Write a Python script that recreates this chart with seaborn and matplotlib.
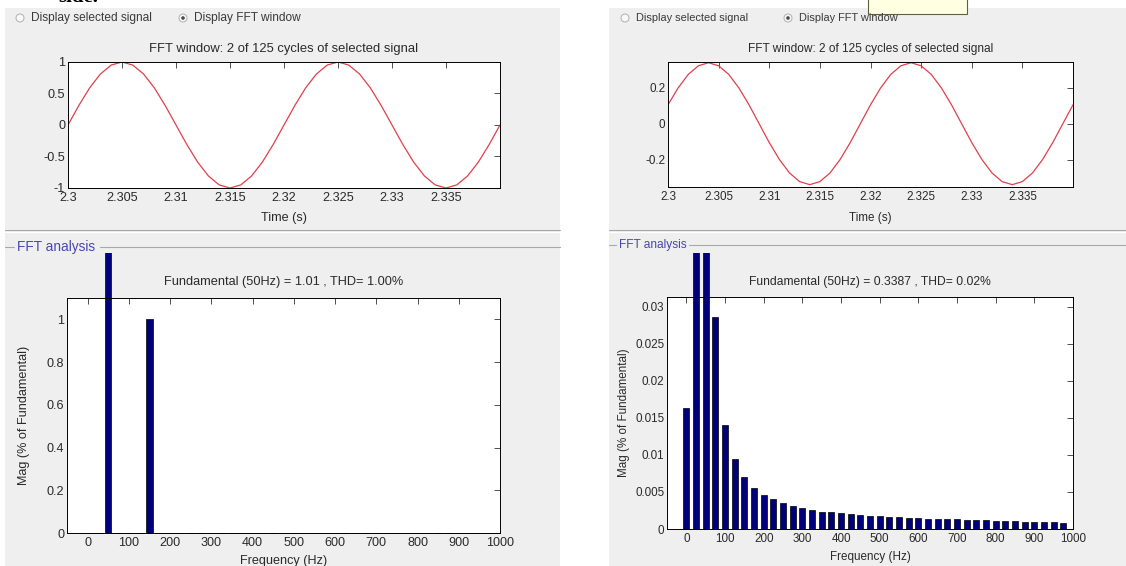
import numpy as np
import matplotlib
matplotlib.use("Agg")
import matplotlib.pyplot as plt
from matplotlib.patches import Rectangle, Circle
import seaborn as sns

# -- Data
time_s = np.round(np.arange(2.300, 2.3405, 0.001), 3)  # 1 ms sampling of the FFT window

signal_left = [0, .309, .588, .809, .951, 1.0, .951, .809, .588, .309,
               0, -.309, -.588, -.809, -.951, -1.0, -.951, -.809, -.588, -.309,
               0, .309, .588, .809, .951, 1.0, .951, .809, .588, .309,
               0, -.309, -.588, -.809, -.951, -1.0, -.951, -.809, -.588, -.309,
               0]
signal_right = [.105, .199, .274, .322, .339, .322, .274, .199, .105, 0,
                -.105, -.199, -.274, -.322, -.339, -.322, -.274, -.199, -.105, 0,
                .105, .199, .274, .322, .339, .322, .274, .199, .105, 0,
                -.105, -.199, -.274, -.322, -.339, -.322, -.274, -.199, -.105, 0,
                .105]

freq_hz = list(range(0, 1000, 25))  # 40 bins, 25 Hz resolution
mag_left = [0, 0, 100, 0, 0, 0, 1.0] + [0] * 33
mag_right = [.0164, .06, 100, .0286, .0141, .0094, .0070, .0055, .0046, .0040,
             .0035, .0031, .0029, .0026, .0023, .0023, .0021, .0020, .0019, .0018,
             .0017, .0016, .0016, .0015, .0015, .0014, .0014, .0013, .0013, .0012,
             .0012, .0012, .0011, .0011, .0011, .0010, .0010, .0009, .0009, .0008]

titles_top = ["FFT window: 2 of 125 cycles of selected signal"] * 2
titles_fft = ["Fundamental (50Hz) = 1.01 , THD= 1.00%",
              "Fundamental (50Hz) = 0.3387 , THD= 0.02%"]
time_ticks = [2.3, 2.305, 2.31, 2.315, 2.32, 2.325, 2.33, 2.335]
time_labels = ["2.3", "2.305", "2.31", "2.315", "2.32", "2.325", "2.33", "2.335"]
freq_ticks = list(range(0, 1001, 100))
sig_yticks = [[-1, -0.5, 0, 0.5, 1], [-0.2, 0, 0.2]]
sig_ylabels = [["-1", "-0.5", "0", "0.5", "1"], ["-0.2", "0", "0.2"]]
sig_ylim = [(-1, 1), (-0.352, 0.343)]
fft_yticks = [[0, 0.2, 0.4, 0.6, 0.8, 1], [0, 0.005, 0.01, 0.015, 0.02, 0.025, 0.03]]
fft_ylabels = [["0", "0.2", "0.4", "0.6", "0.8", "1"],
               ["0", "0.005", "0.01", "0.015", "0.02", "0.025", "0.03"]]
fft_ylim = [(0, 1.1), (0, 0.03135)]

# -- Style
sns.set_theme(style="white")
plt.rcParams["font.family"] = ["Liberation Sans", "DejaVu Sans"]
plt.rcParams["axes.linewidth"] = 0.7

W, H = 1126, 566
fig = plt.figure(figsize=(W / 100, H / 100), dpi=100)
fig.patch.set_facecolor("white")

# background layer in pixel coords (y down)
bg = fig.add_axes([0, 0, 1, 1], zorder=0)
bg.set_xlim(0, W)
bg.set_ylim(H, 0)
bg.axis("off")

panel_grey = "#efefef"
panels = [(5, 560), (609, W)]
scale = [1.08, 1.0]  # the left screenshot is a touch larger
for x0, x1 in panels:
    bg.add_patch(Rectangle((x0, 8), x1 - x0, H - 8, facecolor=panel_grey, edgecolor="none"))
    bg.plot([x0, x1], [230, 230], color="#a8a8a8", lw=0.8)
    bg.plot([x0, x1], [231.5, 231.5], color="white", lw=0.8)

bg.text(58, 2.5, "side.", fontsize=15, fontweight="bold", family="Liberation Serif",
        va="baseline", color="black")

# radio buttons
radio_txt = "#3a3a3a"
for x_off, s in zip([0, 605], scale):
    bg.add_patch(Circle((x_off + 20, 18), 4, facecolor="#f8f8f8", edgecolor="#b0b0b0", lw=0.7))
    bg.text(x_off + 31, 18, "Display selected signal", fontsize=7.9 * s, va="center", color=radio_txt)
    bg.add_patch(Circle((x_off + 183, 18), 4, facecolor="#f8f8f8", edgecolor="#b0b0b0", lw=0.7))
    bg.add_patch(Circle((x_off + 183, 18), 1.8, facecolor="#4a4a4a", edgecolor="none"))
    bg.text(x_off + 194, 18, "Display FFT window", fontsize=7.9 * s, va="center", color=radio_txt)
bg.add_patch(Rectangle((868, -2), 99, 16, facecolor="#ffffe1", edgecolor="#606040", lw=0.8))

# "FFT analysis" group headers
fft_hdr = [(5, 17, 100, 560, 247, 9.8), (609, 619, 689, W, 245, 8.6)]
for x0, xt, xl, x1, y, fs in fft_hdr:
    bg.plot([x0, xt - 3], [y, y], color="#a8a8a8", lw=0.8)
    bg.plot([xl, x1], [y, y], color="#a8a8a8", lw=0.8)
    bg.text(xt, y, "FFT analysis", fontsize=fs, color="#4646b0", va="center")


def fig_rect(x0, y0, x1, y1):
    return [x0 / W, 1 - y1 / H, (x1 - x0) / W, (y1 - y0) / H]


top_boxes = [fig_rect(68, 62, 500, 188), fig_rect(668, 62, 1073, 187)]
fft_boxes = [fig_rect(67, 298, 500, 533), fig_rect(667, 297, 1073, 529)]
signals = [signal_left, signal_right]
mags = [mag_left, mag_right]
text_col = "#2a2a2a"


def matlab_axes(ax, fs):
    ax.set_facecolor("white")
    for s in ax.spines.values():
        s.set_color("black")
        s.set_visible(True)
    ax.tick_params(direction="in", top=True, right=True, length=4, width=0.6,
                   labelsize=fs, pad=2, colors="#333333", labelcolor=text_col)
    ax.tick_params(axis="x", pad=3)


for i in range(2):
    s = scale[i]
    fs = 8.4 * s
    # time-domain window
    ax = fig.add_axes(top_boxes[i], zorder=1)
    sns.lineplot(x=time_s, y=signals[i], color="#e0404a", lw=0.9, ax=ax)
    ax.set_xlim(2.3, 2.34)
    ax.set_ylim(*sig_ylim[i])
    ax.set_xticks(time_ticks, time_labels)
    ax.set_yticks(sig_yticks[i], sig_ylabels[i])
    ax.set_xlabel("Time (s)", fontsize=fs, color=text_col, labelpad=6)
    ax.set_ylabel("")
    ax.set_title(titles_top[i], fontsize=[9.4, 8.6][i], color=text_col, pad=7)
    matlab_axes(ax, fs)

    # FFT spectrum
    ax2 = fig.add_axes(fft_boxes[i], zorder=2)
    sns.barplot(x=freq_hz, y=mags[i], native_scale=True, width=0.6, color="#00007a",
                edgecolor="black", linewidth=0.5, saturation=1, errorbar=None, ax=ax2)
    ax2.set_xlim(-50, 1000)
    ax2.set_ylim(*fft_ylim[i])
    ax2.set_xticks(freq_ticks, [str(f) for f in freq_ticks])
    ax2.set_yticks(fft_yticks[i], fft_ylabels[i])
    ax2.set_xlabel("Frequency (Hz)", fontsize=fs, color=text_col, labelpad=4)
    ax2.set_ylabel("Mag (% of Fundamental)", fontsize=fs, color=text_col, labelpad=[12, 4][i])
    ax2.set_title(titles_fft[i], fontsize=[9.2, 8.7][i], color=text_col, pad=9)
    matlab_axes(ax2, fs)

    # bars run past the axes up to the group box edge, like in the GUI
    x0, x1 = panels[i]
    clip = Rectangle((x0, 253), x1 - x0, H - 253, transform=bg.transData)
    for p in ax2.patches:
        p.set_clip_path(clip)

fig.savefig("out.png", dpi=100, facecolor=fig.get_facecolor())
